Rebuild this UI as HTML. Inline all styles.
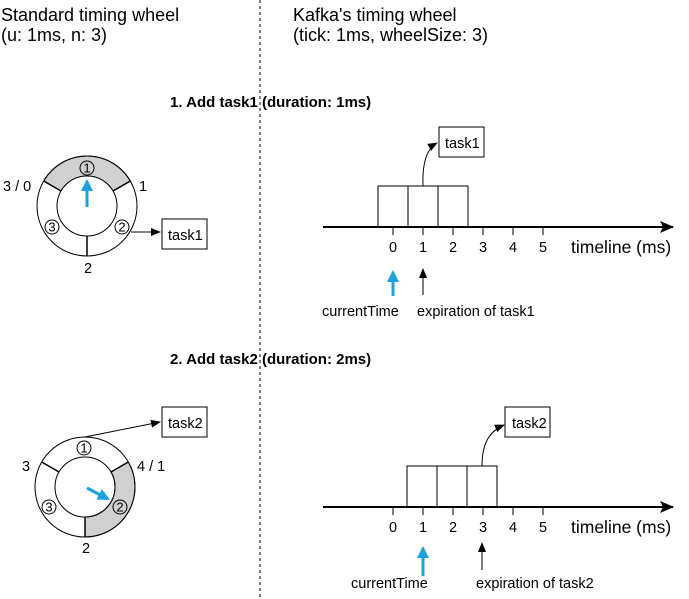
<!DOCTYPE html>
<html><head><meta charset="utf-8"><style>
html,body{margin:0;padding:0;background:#fff;}
svg{display:block;font-family:"Liberation Sans",Arial,sans-serif;}
</style></head><body>
<svg width="689" height="599" viewBox="0 0 689 599" xmlns="http://www.w3.org/2000/svg">
<defs>
<marker id="ah" markerWidth="10" markerHeight="8" refX="9" refY="4" orient="auto" markerUnits="userSpaceOnUse"><path d="M0,0 L10,4 L0,8 Z" fill="#000"/></marker>
<marker id="ahb" markerWidth="12" markerHeight="12" refX="10" refY="6" orient="auto" markerUnits="userSpaceOnUse"><path d="M0,0 L12,6 L0,12 Z" fill="#1ba1e2"/></marker>
<marker id="big" markerWidth="14" markerHeight="12" refX="13" refY="6" orient="auto" markerUnits="userSpaceOnUse"><path d="M0,0 L14,6 L0,12 L3,6 Z" fill="#000"/></marker>
</defs>
<g font-size="18" fill="#000">
<text x="1" y="21">Standard timing wheel</text>
<text x="1" y="41">(u: 1ms, n: 3)</text>
<text x="293" y="21">Kafka's timing wheel</text>
<text x="293" y="41">(tick: 1ms, wheelSize: 3)</text>
</g>
<line x1="260" y1="0" x2="260" y2="599" stroke="#000" stroke-dasharray="3,3" stroke-width="1"/>
<g font-size="15" font-weight="bold">
<text x="170" y="107">1. Add task1 (duration: 1ms)</text>
<text x="170" y="364">2. Add task2 (duration: 2ms)</text>
</g>

<!-- Wheel 1 -->
<g stroke="#000" stroke-width="1">
<path d="M130.3,181 A50,50 0 0 0 43.7,181 L61,191 A30,30 0 0 1 113,191 Z" fill="#d0d0d0"/>
<circle cx="87" cy="206" r="50" fill="none"/>
<circle cx="87" cy="206" r="30" fill="#fff"/>
<line x1="87" y1="236" x2="87" y2="256" stroke-width="1.5"/>
<line x1="113" y1="191" x2="130.3" y2="181" stroke-width="1.5"/>
<line x1="61" y1="191" x2="43.7" y2="181" stroke-width="1.5"/>
<circle cx="87" cy="168" r="7" fill="none"/>
<circle cx="122" cy="227" r="7" fill="none"/>
<circle cx="52" cy="227" r="7" fill="none"/>
</g>
<g font-size="13" text-anchor="middle">
<text x="87" y="172.5">1</text><text x="122" y="231.5">2</text><text x="52" y="231.5">3</text>
</g>
<line x1="87" y1="207" x2="87" y2="181" stroke="#1ba1e2" stroke-width="3" marker-end="url(#ahb)"/>
<line x1="131" y1="232" x2="160" y2="232" stroke="#000" marker-end="url(#ah)"/>
<rect x="162" y="219" width="45" height="30" fill="#fff" stroke="#000"/>
<g font-size="14.5">
<text x="168" y="240">task1</text>
<text x="3" y="191">3 / 0</text>
<text x="139" y="191">1</text>
<text x="84" y="273">2</text>
</g>

<!-- Wheel 2 -->
<g stroke="#000" stroke-width="1">
<path d="M128.3,462 A50,50 0 0 1 85,537 L85,517 A30,30 0 0 0 111,472 Z" fill="#d0d0d0"/>
<circle cx="85" cy="487" r="50" fill="none"/>
<circle cx="85" cy="487" r="30" fill="none"/>
<line x1="85" y1="517" x2="85" y2="537" stroke-width="1.5"/>
<line x1="111" y1="472" x2="128.3" y2="462" stroke-width="1.5"/>
<line x1="59" y1="472" x2="41.7" y2="462" stroke-width="1.5"/>
<circle cx="84" cy="448" r="7" fill="none"/>
<circle cx="120" cy="507" r="7" fill="#d0d0d0"/>
<circle cx="49" cy="507" r="7" fill="none"/>
</g>
<g font-size="13" text-anchor="middle">
<text x="84" y="452.5">1</text><text x="120" y="511.5">2</text><text x="49" y="511.5">3</text>
</g>
<line x1="87" y1="488" x2="108" y2="499" stroke="#1ba1e2" stroke-width="3" marker-end="url(#ahb)"/>
<line x1="85" y1="437" x2="160" y2="422" stroke="#000" marker-end="url(#ah)"/>
<rect x="162" y="407" width="45" height="30" fill="#fff" stroke="#000"/>
<g font-size="14.5">
<text x="168" y="428">task2</text>
<text x="22" y="471">3</text>
<text x="137" y="471">4 / 1</text>
<text x="82" y="553">2</text>
</g>

<!-- Timeline 1 -->
<g stroke="#000" stroke-width="1">
<rect x="378" y="186" width="30" height="41" fill="none"/>
<rect x="408" y="186" width="30" height="41" fill="none"/>
<rect x="438" y="186" width="30" height="41" fill="none"/>
<line x1="323" y1="227" x2="673" y2="227" stroke-width="2" marker-end="url(#big)"/>
<line x1="393" y1="227" x2="393" y2="235"/><line x1="423" y1="227" x2="423" y2="235"/>
<line x1="453" y1="227" x2="453" y2="235"/><line x1="483" y1="227" x2="483" y2="235"/>
<line x1="513" y1="227" x2="513" y2="235"/><line x1="543" y1="227" x2="543" y2="235"/>
<path d="M423,186 C422,160 428,148 437,143" fill="none" marker-end="url(#ah)"/>
<line x1="423" y1="295" x2="423" y2="269" marker-end="url(#ah)"/>
</g>
<rect x="439" y="127" width="45" height="30" fill="#fff" stroke="#000"/>
<line x1="393" y1="296" x2="393" y2="272" stroke="#1ba1e2" stroke-width="3" marker-end="url(#ahb)"/>
<g font-size="14.5">
<text x="445" y="148">task1</text>
<g text-anchor="middle"><text x="393" y="252">0</text><text x="423" y="252">1</text><text x="453" y="252">2</text><text x="483" y="252">3</text><text x="513" y="252">4</text><text x="543" y="252">5</text></g>
<text x="322" y="316">currentTime</text>
<text x="417" y="316">expiration of task1</text>
</g>
<text x="571" y="253" font-size="17.5">timeline (ms)</text>

<!-- Timeline 2 -->
<g stroke="#000" stroke-width="1">
<rect x="407" y="466" width="30" height="41" fill="none"/>
<rect x="437" y="466" width="30" height="41" fill="none"/>
<rect x="467" y="466" width="30" height="41" fill="none"/>
<line x1="323" y1="507" x2="673" y2="507" stroke-width="2" marker-end="url(#big)"/>
<line x1="393" y1="507" x2="393" y2="515"/><line x1="423" y1="507" x2="423" y2="515"/>
<line x1="453" y1="507" x2="453" y2="515"/><line x1="483" y1="507" x2="483" y2="515"/>
<line x1="513" y1="507" x2="513" y2="515"/><line x1="543" y1="507" x2="543" y2="515"/>
<path d="M482,466 C482,440 492,430 504,425" fill="none" marker-end="url(#ah)"/>
<line x1="482" y1="570" x2="482" y2="543" marker-end="url(#ah)"/>
</g>
<rect x="505" y="407" width="45" height="30" fill="#fff" stroke="#000"/>
<line x1="423" y1="576" x2="423" y2="548" stroke="#1ba1e2" stroke-width="3" marker-end="url(#ahb)"/>
<g font-size="14.5">
<text x="512" y="428">task2</text>
<g text-anchor="middle"><text x="393" y="532">0</text><text x="423" y="532">1</text><text x="453" y="532">2</text><text x="483" y="532">3</text><text x="513" y="532">4</text><text x="543" y="532">5</text></g>
<text x="351" y="588">currentTime</text>
<text x="476" y="588">expiration of task2</text>
</g>
<text x="571" y="533" font-size="17.5">timeline (ms)</text>
</svg>
</body></html>
